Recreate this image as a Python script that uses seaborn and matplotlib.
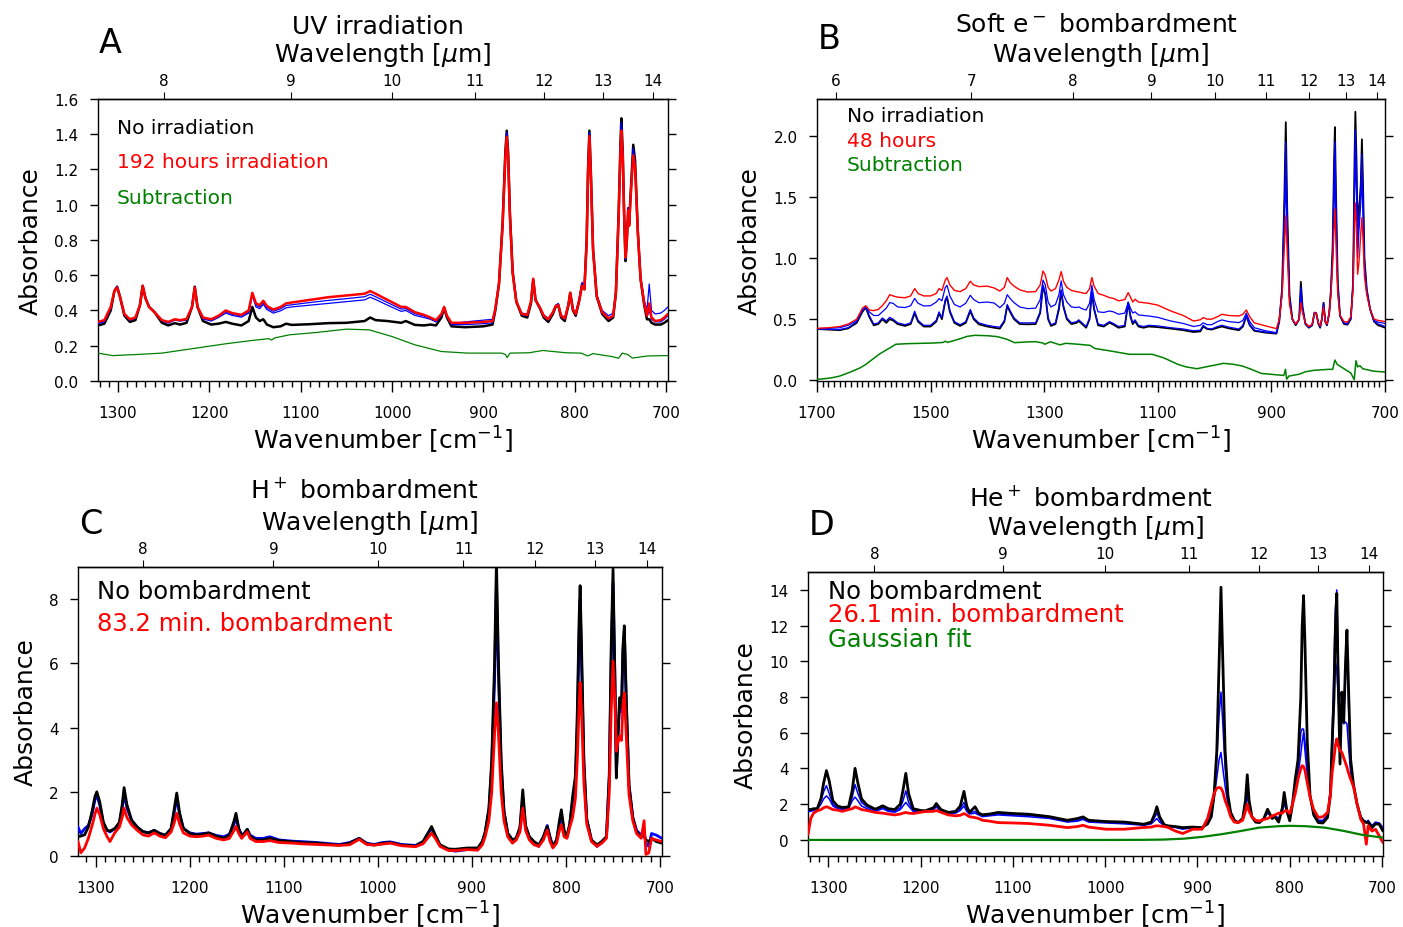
import numpy as np
import matplotlib
matplotlib.use("Agg")
import matplotlib.pyplot as plt
import seaborn as sns
from matplotlib.ticker import FixedLocator, MultipleLocator

# ---------------- Panel A: UV irradiation ----------------
wn_a = [1322, 1315, 1308, 1304, 1301, 1298, 1293, 1287, 1281, 1276, 1273, 1270, 1266, 1260,
        1252, 1245, 1238, 1232, 1225, 1219, 1216, 1213, 1207, 1198, 1190, 1182, 1175, 1165,
        1157, 1153, 1149, 1145, 1141, 1137, 1130, 1122, 1116, 1110, 1090, 1070, 1050, 1030,
        1024, 1018, 1005, 990, 985, 975, 965, 958, 952, 946, 943, 940, 935, 920, 900, 890,
        887, 883, 879, 876, 874.5, 873, 871, 868, 864, 858, 852, 848, 845.5, 843, 838, 834,
        829, 824, 821, 818, 815, 811, 807, 805, 802, 799, 795, 792, 789.5, 787, 785.5, 784,
        782.5, 780, 776, 770, 763, 758, 755, 752, 750, 749, 747.5, 746, 744.5, 743, 741.5,
        740.5, 739, 736, 734, 731, 728, 724, 721, 718.5, 716, 712, 706, 702, 698]
black_a = [0.315, 0.325, 0.40, 0.51, 0.535, 0.48, 0.37, 0.335, 0.345, 0.43, 0.54, 0.47, 0.42, 0.39,
           0.33, 0.315, 0.328, 0.32, 0.33, 0.42, 0.535, 0.42, 0.34, 0.32, 0.325, 0.335, 0.325, 0.315,
           0.34, 0.42, 0.36, 0.34, 0.35, 0.32, 0.305, 0.31, 0.325, 0.318, 0.322, 0.328, 0.33, 0.34,
           0.36, 0.345, 0.34, 0.33, 0.34, 0.318, 0.315, 0.32, 0.315, 0.36, 0.415, 0.36, 0.31, 0.305, 0.31, 0.32,
           0.40, 0.55, 0.90, 1.30, 1.42, 1.30, 0.95, 0.62, 0.45, 0.37, 0.36, 0.44, 0.575, 0.46, 0.41, 0.36,
           0.335, 0.38, 0.42, 0.43, 0.36, 0.34, 0.43, 0.50, 0.40, 0.37, 0.46, 0.55, 0.52, 0.80, 1.20, 1.42,
           1.20, 0.75, 0.48, 0.38, 0.34, 0.36, 0.50, 0.95, 1.35, 1.49, 1.30, 0.95, 0.68, 0.80, 0.98,
           0.89, 1.05, 1.34, 1.25, 0.85, 0.58, 0.43, 0.35, 0.35, 0.33, 0.32, 0.32, 0.33, 0.345]
red_a = [0.335, 0.345, 0.42, 0.51, 0.53, 0.48, 0.38, 0.35, 0.36, 0.43, 0.54, 0.47, 0.42, 0.39,
         0.345, 0.335, 0.35, 0.345, 0.352, 0.42, 0.53, 0.42, 0.36, 0.35, 0.37, 0.40, 0.385, 0.375,
         0.40, 0.50, 0.44, 0.43, 0.455, 0.425, 0.405, 0.42, 0.44, 0.445, 0.46, 0.475, 0.485, 0.495,
         0.51, 0.495, 0.46, 0.42, 0.42, 0.39, 0.375, 0.36, 0.345, 0.38, 0.42, 0.37, 0.33, 0.33, 0.335, 0.34,
         0.41, 0.55, 0.88, 1.27, 1.385, 1.27, 0.93, 0.61, 0.45, 0.38, 0.375, 0.45, 0.58, 0.46, 0.415, 0.37,
         0.35, 0.39, 0.425, 0.43, 0.37, 0.355, 0.43, 0.50, 0.405, 0.38, 0.46, 0.54, 0.52, 0.78, 1.18, 1.39,
         1.18, 0.74, 0.48, 0.39, 0.355, 0.37, 0.50, 0.93, 1.30, 1.42, 1.27, 0.95, 0.70, 0.80, 0.97,
         0.88, 1.03, 1.28, 1.21, 0.84, 0.58, 0.44, 0.37, 0.44, 0.36, 0.34, 0.345, 0.36, 0.38]
blue1_a = [0.325, 0.335, 0.41, 0.51, 0.535, 0.48, 0.375, 0.345, 0.355, 0.43, 0.54, 0.47, 0.42, 0.39,
           0.34, 0.328, 0.345, 0.34, 0.345, 0.42, 0.53, 0.42, 0.352, 0.34, 0.36, 0.385, 0.372, 0.362,
           0.385, 0.485, 0.42, 0.41, 0.435, 0.405, 0.385, 0.398, 0.415, 0.42, 0.43, 0.44, 0.45, 0.46,
           0.475, 0.462, 0.43, 0.395, 0.40, 0.372, 0.36, 0.35, 0.335, 0.37, 0.415, 0.365, 0.32, 0.32, 0.325, 0.33,
           0.40, 0.55, 0.89, 1.29, 1.41, 1.29, 0.94, 0.62, 0.45, 0.375, 0.37, 0.445, 0.575, 0.46, 0.41, 0.365,
           0.345, 0.385, 0.425, 0.435, 0.365, 0.35, 0.43, 0.50, 0.40, 0.375, 0.46, 0.545, 0.52, 0.79, 1.19, 1.41,
           1.19, 0.75, 0.48, 0.385, 0.35, 0.365, 0.50, 0.94, 1.33, 1.46, 1.29, 0.95, 0.69, 0.80, 0.98,
           0.89, 1.04, 1.31, 1.23, 0.85, 0.58, 0.44, 0.365, 0.40, 0.35, 0.335, 0.335, 0.35, 0.37]
blue2_a = [0.330, 0.340, 0.415, 0.51, 0.535, 0.48, 0.378, 0.345, 0.357, 0.43, 0.54, 0.47, 0.42, 0.39,
           0.342, 0.332, 0.347, 0.342, 0.348, 0.42, 0.53, 0.42, 0.356, 0.345, 0.365, 0.392, 0.378, 0.37,
           0.39, 0.49, 0.43, 0.42, 0.445, 0.415, 0.395, 0.41, 0.428, 0.432, 0.445, 0.457, 0.467, 0.478,
           0.492, 0.478, 0.445, 0.408, 0.41, 0.382, 0.368, 0.355, 0.34, 0.375, 0.418, 0.368, 0.325, 0.335, 0.345, 0.35,
           0.41, 0.55, 0.89, 1.29, 1.41, 1.29, 0.94, 0.62, 0.45, 0.385, 0.38, 0.45, 0.575, 0.46, 0.415, 0.375,
           0.355, 0.39, 0.43, 0.44, 0.375, 0.36, 0.43, 0.50, 0.41, 0.385, 0.47, 0.56, 0.52, 0.79, 1.19, 1.41,
           1.19, 0.75, 0.49, 0.40, 0.37, 0.385, 0.51, 0.94, 1.33, 1.47, 1.29, 0.95, 0.69, 0.80, 0.98,
           0.88, 1.04, 1.32, 1.23, 0.85, 0.59, 0.46, 0.40, 0.55, 0.40, 0.38, 0.385, 0.40, 0.42]
sub_wn_a = [1322, 1306, 1280, 1252, 1215, 1182, 1153, 1135, 1132, 1128, 1112, 1083, 1050, 1025,
            1000, 975, 946, 917, 880, 876, 874, 871, 850, 835, 810, 793, 786, 780, 760, 752,
            748, 742, 737, 720, 698]
sub_a = [0.158, 0.144, 0.150, 0.158, 0.186, 0.211, 0.230, 0.240, 0.232, 0.245, 0.262, 0.275, 0.294, 0.290,
         0.252, 0.205, 0.167, 0.158, 0.158, 0.150, 0.133, 0.158, 0.160, 0.173, 0.160, 0.158, 0.142, 0.155, 0.139, 0.129,
         0.158, 0.150, 0.130, 0.142, 0.144]

# ---------------- Panel B: soft electron bombardment ----------------
wn_b = [1700, 1680, 1660, 1645, 1630, 1620, 1614, 1608, 1600, 1592, 1585, 1578, 1572, 1566, 1558,
        1545, 1535, 1528, 1522, 1512, 1500, 1490, 1485, 1480, 1474, 1471, 1466, 1458, 1448, 1438,
        1430, 1424, 1415, 1400, 1388, 1378, 1370, 1365, 1360, 1353, 1343, 1329, 1315, 1307, 1302,
        1298, 1293, 1288, 1280, 1274, 1270, 1266, 1260, 1252, 1243, 1239, 1233, 1226, 1220, 1216,
        1212, 1205, 1195, 1185, 1178, 1169, 1158, 1152, 1148, 1144, 1140, 1134, 1125, 1116, 1100,
        1077, 1055, 1037, 1025, 1020, 1013, 1005, 995, 987, 975, 957, 950, 944, 938, 930, 910, 891,
        886, 881, 877, 874.5, 872, 868, 863, 857, 851, 848, 845, 840, 834, 828, 824, 821, 817, 814,
        811, 808, 805, 802, 798, 795, 792, 789.5, 788, 786, 783, 779, 772, 766, 760, 756, 753.5,
        752, 750, 748, 746, 744.5, 742.5, 740.5, 738.5, 736, 732, 726, 719, 712, 705, 700]
black_b = [0.42, 0.415, 0.41, 0.425, 0.47, 0.56, 0.595, 0.52, 0.45, 0.46, 0.50, 0.47, 0.50, 0.49, 0.46,
           0.445, 0.46, 0.55, 0.48, 0.44, 0.44, 0.48, 0.548, 0.50, 0.65, 0.676, 0.56, 0.47, 0.445, 0.47,
           0.567, 0.50, 0.458, 0.44, 0.43, 0.423, 0.48, 0.608, 0.56, 0.50, 0.46, 0.458, 0.46, 0.55, 0.77,
           0.70, 0.50, 0.445, 0.46, 0.58, 0.73, 0.60, 0.50, 0.46, 0.47, 0.485, 0.46, 0.43, 0.50, 0.717,
           0.58, 0.45, 0.44, 0.472, 0.455, 0.43, 0.44, 0.635, 0.52, 0.46, 0.485, 0.44, 0.43, 0.44, 0.435,
           0.423, 0.41, 0.395, 0.40, 0.44, 0.42, 0.415, 0.43, 0.44, 0.425, 0.41, 0.44, 0.526, 0.45, 0.405, 0.39, 0.382,
           0.48, 0.75, 1.50, 2.11, 1.40, 0.70, 0.50, 0.45, 0.50, 0.805, 0.60, 0.46, 0.43, 0.45, 0.554, 0.55, 0.46, 0.43,
           0.50, 0.635, 0.48, 0.45, 0.55, 0.745, 1.10, 1.80, 2.07, 1.50, 0.80, 0.526, 0.46, 0.455, 0.50, 0.80, 1.80,
           2.195, 1.80, 1.20, 1.40, 1.467, 1.60, 1.97, 1.60, 1.00, 0.745, 0.58, 0.48, 0.45, 0.44, 0.43]
red_b = [0.425, 0.43, 0.44, 0.46, 0.50, 0.59, 0.61, 0.575, 0.57, 0.58, 0.61, 0.65, 0.70, 0.69, 0.68,
         0.675, 0.69, 0.75, 0.71, 0.69, 0.69, 0.71, 0.75, 0.735, 0.82, 0.84, 0.78, 0.735, 0.725, 0.75,
         0.81, 0.78, 0.766, 0.77, 0.755, 0.73, 0.76, 0.84, 0.80, 0.77, 0.74, 0.722, 0.725, 0.78, 0.894,
         0.86, 0.76, 0.73, 0.75, 0.82, 0.889, 0.81, 0.76, 0.735, 0.725, 0.722, 0.715, 0.71, 0.75, 0.84,
         0.77, 0.71, 0.695, 0.676, 0.67, 0.65, 0.66, 0.717, 0.68, 0.64, 0.663, 0.64, 0.635, 0.63, 0.615,
         0.567, 0.53, 0.485, 0.495, 0.513, 0.50, 0.50, 0.52, 0.54, 0.53, 0.526, 0.54, 0.575, 0.52, 0.47, 0.445, 0.423,
         0.50, 0.70, 1.10, 1.345, 1.05, 0.62, 0.50, 0.46, 0.50, 0.635, 0.55, 0.47, 0.44, 0.46, 0.55, 0.55, 0.47, 0.445,
         0.50, 0.60, 0.48, 0.46, 0.55, 0.70, 0.95, 1.25, 1.40, 1.10, 0.70, 0.53, 0.48, 0.475, 0.52, 0.75, 1.30,
         1.45, 1.20, 0.867, 0.95, 1.045, 1.20, 1.33, 1.15, 0.85, 0.70, 0.58, 0.50, 0.49, 0.485, 0.48]
blue_hi_b = [0.423, 0.425, 0.43, 0.45, 0.49, 0.58, 0.60, 0.56, 0.53, 0.53, 0.56, 0.59, 0.635, 0.63, 0.60,
             0.595, 0.61, 0.67, 0.63, 0.608, 0.61, 0.64, 0.668, 0.65, 0.76, 0.777, 0.69, 0.62, 0.60, 0.63,
             0.695, 0.66, 0.635, 0.64, 0.632, 0.594, 0.63, 0.70, 0.67, 0.635, 0.60, 0.586, 0.59, 0.66, 0.82,
             0.78, 0.64, 0.60, 0.62, 0.70, 0.813, 0.70, 0.64, 0.60, 0.595, 0.60, 0.585, 0.575, 0.63, 0.777,
             0.66, 0.56, 0.555, 0.567, 0.56, 0.54, 0.55, 0.635, 0.59, 0.55, 0.56, 0.535, 0.53, 0.526, 0.515,
             0.485, 0.465, 0.44, 0.45, 0.47, 0.455, 0.455, 0.48, 0.494, 0.48, 0.472, 0.49, 0.55, 0.48, 0.43, 0.405, 0.39,
             0.49, 0.72, 1.25, 1.65, 1.20, 0.65, 0.50, 0.455, 0.50, 0.70, 0.57, 0.465, 0.435, 0.455, 0.55, 0.55, 0.465, 0.44,
             0.50, 0.62, 0.48, 0.455, 0.55, 0.72, 1.00, 1.45, 1.70, 1.25, 0.75, 0.53, 0.47, 0.465, 0.51, 0.78, 1.55,
             1.80, 1.50, 1.00, 1.20, 1.30, 1.45, 1.65, 1.35, 0.92, 0.72, 0.58, 0.49, 0.475, 0.47, 0.465]
blue_lo_b = [0.42, 0.418, 0.415, 0.43, 0.48, 0.57, 0.60, 0.53, 0.46, 0.47, 0.51, 0.485, 0.515, 0.50, 0.47,
             0.455, 0.47, 0.565, 0.49, 0.45, 0.45, 0.49, 0.56, 0.51, 0.66, 0.69, 0.57, 0.48, 0.455, 0.48,
             0.58, 0.51, 0.47, 0.45, 0.44, 0.435, 0.49, 0.62, 0.57, 0.51, 0.47, 0.47, 0.47, 0.56, 0.78,
             0.71, 0.51, 0.455, 0.47, 0.60, 0.74, 0.61, 0.51, 0.47, 0.48, 0.495, 0.47, 0.44, 0.51, 0.73,
             0.59, 0.46, 0.45, 0.48, 0.465, 0.44, 0.45, 0.64, 0.53, 0.47, 0.495, 0.45, 0.44, 0.45, 0.445,
             0.43, 0.42, 0.405, 0.41, 0.45, 0.425, 0.42, 0.44, 0.45, 0.435, 0.42, 0.45, 0.53, 0.455, 0.41, 0.395, 0.386,
             0.49, 0.74, 1.40, 1.95, 1.30, 0.68, 0.50, 0.455, 0.50, 0.76, 0.59, 0.465, 0.435, 0.455, 0.554, 0.55, 0.465, 0.435,
             0.50, 0.63, 0.48, 0.455, 0.55, 0.74, 1.05, 1.70, 1.95, 1.40, 0.78, 0.53, 0.465, 0.46, 0.51, 0.79, 1.70,
             2.05, 1.70, 1.10, 1.30, 1.40, 1.55, 1.85, 1.50, 0.97, 0.74, 0.58, 0.485, 0.46, 0.45, 0.44]
sub_wn_b = [1700, 1690, 1675, 1660, 1640, 1625, 1614, 1600, 1590, 1581, 1570, 1561, 1540, 1514, 1495,
            1478, 1474, 1470, 1448, 1435, 1422, 1400, 1382, 1365, 1352, 1330, 1315, 1302, 1299, 1289,
            1272, 1262, 1240, 1219, 1214, 1210, 1183, 1150, 1110, 1090, 1064, 1050, 1031, 1010, 984,
            965, 951, 935, 918, 890, 878, 875, 873, 869, 851, 840, 825, 800, 792, 788, 784, 772, 760,
            754, 751, 748, 744, 739, 720, 700]
sub_b = [0.008, 0.012, 0.020, 0.035, 0.070, 0.100, 0.130, 0.180, 0.215, 0.240, 0.270, 0.295, 0.300, 0.303, 0.305,
         0.310, 0.320, 0.310, 0.340, 0.360, 0.368, 0.365, 0.357, 0.335, 0.308, 0.314, 0.316, 0.305, 0.295, 0.315,
         0.290, 0.303, 0.295, 0.286, 0.270, 0.260, 0.240, 0.213, 0.213, 0.185, 0.130, 0.110, 0.095, 0.115, 0.139,
         0.130, 0.117, 0.090, 0.057, 0.045, 0.040, 0.090, 0.010, 0.035, 0.050, 0.070, 0.082, 0.090, 0.090, 0.166, 0.130, 0.095, 0.060,
         0.005, 0.160, 0.110, 0.120, 0.095, 0.075, 0.068]

# ---------------- Panel C: H+ bombardment ----------------
wn_c = [1319, 1316, 1312, 1308, 1304, 1301, 1299, 1296, 1292, 1288, 1285, 1280, 1275, 1272, 1270,
        1267, 1262, 1256, 1250, 1244, 1238, 1232, 1226, 1220, 1217, 1214, 1211, 1207, 1200, 1193,
        1186, 1180, 1172, 1164, 1158, 1153, 1151, 1148, 1145, 1142, 1139, 1136, 1130, 1122, 1115,
        1105, 1090, 1082, 1065, 1050, 1041, 1030, 1020, 1012, 1004, 995, 987, 975, 960, 952, 946,
        943, 939, 934, 925, 918, 905, 894, 889, 886, 882, 879, 876, 874, 872, 869, 866, 862, 857,
        853, 849, 846, 843, 839, 834, 829, 824, 820, 817, 814, 810, 807, 805, 802, 799, 796, 793,
        790, 788, 786, 785, 783.5, 781, 778, 773, 767, 762, 757, 754, 752, 750, 748, 746.5, 745,
        743, 741, 739.5, 738, 736, 733, 729, 725, 720, 717, 715, 712, 709, 704, 698]
black_c = [0.60, 0.62, 0.66, 0.90, 1.40, 1.85, 2.00, 1.70, 1.05, 0.80, 0.78, 0.85, 1.05, 1.60, 2.13,
           1.60, 1.12, 0.90, 0.76, 0.72, 0.80, 0.70, 0.65, 0.85, 1.40, 1.96, 1.35, 0.86, 0.70, 0.66,
           0.68, 0.72, 0.62, 0.55, 0.65, 1.10, 1.33, 0.85, 0.62, 0.70, 0.83, 0.62, 0.50, 0.50, 0.55,
           0.48, 0.44, 0.42, 0.40, 0.36, 0.34, 0.40, 0.55, 0.38, 0.34, 0.40, 0.42, 0.34, 0.31, 0.45, 0.75,
           0.92, 0.65, 0.35, 0.22, 0.21, 0.25, 0.25, 0.45, 0.76, 1.50, 3.00, 6.00, 9.20, 6.20, 3.00, 1.40, 0.71, 0.50,
           0.55, 0.90, 2.06, 0.95, 0.60, 0.45, 0.35, 0.60, 0.92, 0.55, 0.30, 0.50, 1.10, 1.44, 0.80, 0.60, 1.00, 1.85,
           2.50, 4.50, 7.50, 8.42, 6.50, 3.00, 1.15, 0.50, 0.35, 0.45, 0.60, 2.50, 6.50, 8.94, 5.50, 2.43, 3.60,
           4.93, 4.60, 6.50, 7.17, 5.00, 2.20, 1.20, 0.75, 0.60, 0.65, 0.50, 0.45, 0.55, 0.45, 0.40]
red_c = [0.45, 0.10, 0.25, 0.55, 0.95, 1.30, 1.49, 1.30, 0.85, 0.60, 0.45, 0.72, 0.90, 1.20, 1.49,
         1.20, 0.97, 0.80, 0.66, 0.62, 0.72, 0.62, 0.57, 0.75, 1.00, 1.33, 1.00, 0.72, 0.62, 0.60,
         0.62, 0.65, 0.55, 0.50, 0.55, 0.80, 0.92, 0.70, 0.55, 0.65, 0.75, 0.55, 0.45, 0.45, 0.48,
         0.42, 0.40, 0.38, 0.36, 0.34, 0.33, 0.35, 0.52, 0.36, 0.34, 0.37, 0.40, 0.32, 0.29, 0.38, 0.60,
         0.71, 0.55, 0.30, 0.17, 0.17, 0.20, 0.18, 0.35, 0.60, 1.10, 2.00, 3.80, 4.77, 3.90, 2.00, 1.10, 0.60, 0.40,
         0.50, 0.75, 1.49, 0.80, 0.50, 0.35, 0.30, 0.50, 0.81, 0.45, 0.25, 0.40, 0.80, 0.97, 0.60, 0.55, 0.90, 1.20,
         1.80, 3.00, 4.80, 5.40, 4.50, 2.30, 1.00, 0.45, 0.30, 0.40, 0.55, 2.00, 4.50, 6.07, 4.80, 3.26, 3.50,
         3.73, 3.60, 4.70, 5.08, 3.80, 1.90, 1.10, 0.70, 0.55, 1.10, 0.05, 0.10, 0.55, 0.50, 0.45]
blue_c = [0.90, 0.70, 0.85, 0.95, 1.30, 1.75, 1.90, 1.60, 1.00, 0.80, 0.75, 0.85, 1.00, 1.50, 1.95,
          1.50, 1.10, 0.90, 0.76, 0.72, 0.80, 0.70, 0.65, 0.85, 1.30, 1.80, 1.30, 0.86, 0.72, 0.68,
          0.70, 0.72, 0.64, 0.60, 0.68, 1.00, 1.20, 0.85, 0.65, 0.72, 0.83, 0.65, 0.55, 0.55, 0.60,
          0.50, 0.46, 0.45, 0.42, 0.38, 0.36, 0.42, 0.55, 0.40, 0.36, 0.42, 0.44, 0.36, 0.33, 0.45, 0.75,
          0.85, 0.62, 0.32, 0.20, 0.15, 0.20, 0.20, 0.45, 0.70, 1.40, 2.80, 5.50, 8.50, 5.80, 2.80, 1.40, 0.70, 0.50,
          0.55, 0.85, 1.80, 0.90, 0.60, 0.40, 0.30, 0.60, 0.95, 0.60, 0.30, 0.50, 1.00, 1.30, 0.75, 0.60, 1.00, 1.70,
          2.30, 4.00, 7.00, 8.00, 6.00, 2.80, 1.15, 0.50, 0.30, 0.45, 0.60, 2.50, 6.00, 8.50, 5.50, 2.60, 3.60,
          4.70, 4.50, 6.30, 7.00, 4.80, 2.20, 1.20, 0.80, 0.65, 0.70, 0.40, 0.30, 0.70, 0.65, 0.55]

# ---------------- Panel D: He+ bombardment ----------------
wn_d = [1322, 1319, 1316, 1312, 1308, 1305, 1302, 1299, 1295, 1290, 1285, 1278, 1274, 1271, 1268,
        1264, 1258, 1249, 1241, 1235, 1228, 1222, 1219, 1216, 1213, 1208, 1200, 1195, 1186, 1183,
        1178, 1170, 1162, 1157, 1153, 1150, 1147, 1141, 1137, 1133, 1125, 1116, 1100, 1083, 1060,
        1041, 1030, 1024, 1018, 999, 979, 958, 950, 946, 944, 941, 936, 932, 924, 916, 905, 895,
        889, 885, 882, 879, 876.5, 874.5, 872.5, 870, 867, 864, 860, 856, 851, 848, 846, 844, 841,
        837, 833, 828, 824, 822, 819, 816, 812, 808, 806, 803, 800, 797, 794, 791, 788, 786.5, 785,
        783.5, 781, 778, 774, 769, 764, 759, 756, 754, 752, 750.5, 749, 747.5, 745.5, 743.5, 741.5,
        739.5, 738, 736, 734, 731, 727, 723, 720, 717, 715, 711, 707, 703, 699]
black_d = [1.72, 1.70, 1.75, 1.75, 2.30, 3.20, 3.88, 3.30, 2.19, 1.90, 1.82, 1.85, 2.80, 4.01, 3.20,
           2.30, 1.95, 1.72, 1.91, 1.75, 1.70, 2.00, 2.80, 3.73, 2.60, 1.75, 1.65, 1.63, 1.80, 2.04,
           1.70, 1.54, 1.60, 1.90, 2.72, 1.90, 1.54, 1.86, 1.50, 1.41, 1.45, 1.54, 1.48, 1.44, 1.30,
           1.10, 1.20, 1.29, 1.10, 1.03, 1.00, 0.88, 1.00, 1.50, 1.86, 1.30, 0.85, 0.79, 0.75, 0.69, 0.72, 0.69,
           0.90, 1.30, 2.50, 5.00, 10.0, 14.15, 10.0, 5.00, 2.50, 1.54, 1.10, 0.97, 1.20, 2.20, 3.65, 2.20, 1.30,
           1.00, 0.97, 1.20, 1.72, 1.50, 1.20, 1.30, 1.00, 1.80, 2.66, 1.60, 1.07, 2.00, 3.41, 4.50, 8.00, 12.0, 13.68,
           11.0, 5.50, 2.50, 1.40, 0.97, 0.95, 1.26, 2.50, 5.50, 8.00, 12.0, 13.8, 9.00, 4.25, 8.28, 6.60,
           10.0, 11.75, 8.00, 4.50, 3.13, 2.00, 1.26, 1.05, 0.97, 1.00, 0.69, 0.90, 0.88, 0.50]
red_d = [0.30, 1.20, 1.50, 1.63, 1.70, 1.80, 1.86, 1.80, 1.70, 1.67, 1.60, 1.70, 1.75, 1.85, 1.80,
         1.70, 1.65, 1.54, 1.50, 1.45, 1.40, 1.45, 1.50, 1.54, 1.50, 1.48, 1.55, 1.59, 1.60, 1.65,
         1.55, 1.40, 1.35, 1.38, 1.48, 1.40, 1.30, 1.25, 1.20, 1.10, 1.05, 0.97, 0.95, 0.92, 0.82,
         0.69, 0.75, 0.82, 0.72, 0.60, 0.60, 0.70, 0.72, 0.78, 0.79, 0.78, 0.75, 0.70, 0.50, 0.36, 0.60, 0.60,
         1.20, 2.00, 2.60, 2.90, 2.94, 2.90, 2.70, 2.20, 1.80, 1.30, 1.00, 0.97, 1.10, 1.60, 2.00, 1.60, 1.30,
         1.10, 1.06, 1.15, 1.20, 1.25, 1.35, 1.40, 1.50, 1.50, 1.60, 1.65, 1.48, 2.00, 2.60, 3.40, 4.00, 4.16, 4.10,
         3.90, 3.20, 2.40, 1.70, 1.26, 1.30, 1.54, 2.50, 3.80, 4.60, 5.30, 5.66, 5.30, 5.00, 4.90, 4.60,
         4.30, 4.07, 3.70, 3.40, 3.00, 2.00, 1.15, 0.90, -0.24, 0.80, 0.50, 0.60, 0.22, -0.15]
blue1_d = [1.60, 1.60, 1.65, 1.70, 2.00, 2.30, 2.47, 2.30, 1.90, 1.75, 1.70, 1.75, 2.20, 2.40, 2.20,
           1.90, 1.75, 1.60, 1.75, 1.60, 1.55, 1.70, 1.90, 2.10, 1.90, 1.60, 1.60, 1.60, 1.70, 1.85,
           1.60, 1.50, 1.50, 1.65, 1.90, 1.60, 1.45, 1.50, 1.40, 1.30, 1.35, 1.40, 1.35, 1.30, 1.20,
           1.00, 1.05, 1.15, 1.00, 0.95, 0.90, 0.82, 0.90, 1.10, 1.20, 1.00, 0.80, 0.75, 0.70, 0.60, 0.68, 0.68,
           0.90, 1.50, 2.30, 3.50, 4.50, 4.90, 4.00, 3.00, 2.00, 1.40, 1.05, 0.97, 1.15, 1.80, 2.50, 1.80, 1.30,
           1.05, 1.00, 1.20, 1.50, 1.40, 1.30, 1.35, 1.20, 1.60, 2.00, 1.60, 1.30, 2.10, 2.80, 3.60, 4.80, 5.50, 6.00,
           5.00, 3.60, 2.40, 1.60, 1.10, 1.10, 1.40, 2.70, 4.50, 8.00, 10.0, 9.50, 8.00, 6.50, 6.80, 6.50,
           6.60, 6.50, 5.00, 3.80, 3.00, 2.00, 1.30, 1.10, 1.00, 1.10, 0.80, 1.00, 0.95, 0.70]
blue2_d = [1.65, 1.65, 1.70, 1.72, 2.20, 2.70, 3.04, 2.60, 2.00, 1.80, 1.75, 1.80, 2.40, 3.10, 2.60,
           2.10, 1.85, 1.65, 1.80, 1.65, 1.60, 1.80, 2.20, 2.75, 2.10, 1.65, 1.62, 1.62, 1.75, 1.95,
           1.65, 1.52, 1.55, 1.75, 2.10, 1.70, 1.50, 1.60, 1.45, 1.35, 1.40, 1.45, 1.40, 1.38, 1.25,
           1.05, 1.10, 1.20, 1.05, 1.00, 0.95, 0.85, 0.95, 1.30, 1.50, 1.15, 0.82, 0.77, 0.72, 0.65, 0.70, 0.69,
           0.95, 1.80, 2.60, 4.50, 7.00, 8.28, 6.50, 4.00, 2.30, 1.45, 1.10, 0.97, 1.20, 2.00, 3.10, 2.00, 1.30,
           1.05, 1.00, 1.20, 1.60, 1.45, 1.30, 1.35, 1.20, 1.70, 2.40, 1.60, 1.20, 2.10, 3.00, 4.00, 6.00, 6.22, 6.20,
           5.50, 4.20, 2.40, 1.50, 1.00, 1.05, 1.35, 2.90, 6.00, 10.0, 13.0, 14.0, 10.0, 6.50, 7.40, 7.00,
           9.00, 11.2, 7.00, 4.00, 3.00, 2.00, 1.30, 1.10, 1.00, 1.05, 0.75, 0.95, 0.90, 0.60]
fit_wn_d = [1322, 1100, 1000, 960, 937, 915, 895, 874, 853, 833, 812, 800, 783, 762, 741, 721, 699]
fit_d = [0.0, 0.0, 0.0, 0.005, 0.02, 0.07, 0.17, 0.32, 0.50, 0.69, 0.77, 0.79, 0.77, 0.69, 0.50, 0.28, 0.13]

# ---------------- styling ----------------
sns.set_style("ticks")
plt.rcParams["font.family"] = ["DejaVu Sans"]
plt.rcParams["mathtext.fontset"] = "dejavusans"
plt.rcParams["axes.linewidth"] = 1.0
for key in ("text.color", "axes.labelcolor", "xtick.color", "ytick.color", "axes.edgecolor"):
    plt.rcParams[key] = "black"

fig = plt.figure(figsize=(14.03, 9.28), dpi=100)


def to_wavelength(x):
    x = np.asarray(x, dtype=float)
    with np.errstate(divide="ignore", invalid="ignore"):
        return 1e4 / x


def trace(ax, x, y, color, lw, z):
    sns.lineplot(x=x, y=y, ax=ax, color=color, linewidth=lw, sort=False,
                 estimator=None, zorder=z, legend=False)


def frame(ax, xlim, ylim, xticks, yticks, wl_ticks):
    ax.set_xlim(*xlim)
    ax.set_ylim(*ylim)
    ax.xaxis.set_major_locator(FixedLocator(xticks))
    ax.xaxis.set_minor_locator(MultipleLocator(10))
    ax.set_yticks(yticks)
    for s in ax.spines.values():
        s.set_visible(True)
        s.set_color("black")
        s.set_linewidth(1.0)
    ax.tick_params(axis="both", which="both", direction="out", top=False, right=True,
                   labelsize=11, width=1, color="black", labelcolor="black")
    ax.tick_params(axis="x", which="major", length=8, pad=9)
    ax.tick_params(axis="x", which="minor", length=4)
    ax.tick_params(axis="y", which="major", length=6, pad=8)
    ax.set_xlabel("Wavenumber [cm$^{-1}$]", fontsize=18, labelpad=3)
    ax.set_ylabel("Absorbance", fontsize=18, labelpad=8)
    sec = ax.secondary_xaxis("top", functions=(to_wavelength, to_wavelength))
    sec.set_xticks(wl_ticks)
    sec.tick_params(direction="out", length=5, labelsize=11, pad=3,
                    color="black", labelcolor="black")
    sec.spines["top"].set_linewidth(1.0)
    sec.spines["top"].set_color("black")
    sec.set_xlabel("Wavelength [$\\mu$m]", fontsize=18, labelpad=8.5)
    return sec


def notes(ax, lines, x, ys, size):
    for (txt, col), y in zip(lines, ys):
        ax.text(x, y, txt, color=col, fontsize=size, ha="left", va="center",
                transform=ax.transAxes)


# Panel A
ax_a = fig.add_axes([0.0698, 0.5884, 0.4063, 0.3039])
trace(ax_a, wn_a, black_a, "black", 1.8, 3)
trace(ax_a, wn_a, blue1_a, "blue", 0.9, 4)
trace(ax_a, wn_a, blue2_a, "blue", 0.9, 4)
trace(ax_a, wn_a, red_a, "red", 1.8, 5)
trace(ax_a, sub_wn_a, sub_a, "green", 0.9, 6)
frame(ax_a, (1322, 698), (0, 1.6), [1300, 1200, 1100, 1000, 900, 800, 700],
      [0.0, 0.2, 0.4, 0.6, 0.8, 1.0, 1.2, 1.4, 1.6], [8, 9, 10, 11, 12, 13, 14])
notes(ax_a, [("No irradiation", "black"), ("192 hours irradiation", "red"),
             ("Subtraction", "green")], 0.033, [0.90, 0.777, 0.652], 14.5)
ax_a.text(0.491, 1.259, "UV irradiation", fontsize=18, ha="center", va="center",
          transform=ax_a.transAxes)

# Panel B
ax_b = fig.add_axes([0.5823, 0.5884, 0.4048, 0.3039])
trace(ax_b, wn_b, black_b, "black", 1.3, 3)
trace(ax_b, wn_b, blue_lo_b, "blue", 0.9, 4)
trace(ax_b, wn_b, blue_hi_b, "blue", 0.9, 4)
trace(ax_b, wn_b, red_b, "red", 1.0, 5)
trace(ax_b, sub_wn_b, sub_b, "green", 1.1, 6)
frame(ax_b, (1700, 700), (-0.005, 2.3), [1700, 1500, 1300, 1100, 900, 700],
      [0.0, 0.5, 1.0, 1.5, 2.0], [6, 7, 8, 9, 10, 11, 12, 13, 14])
notes(ax_b, [("No irradiation", "black"), ("48 hours", "red"),
             ("Subtraction", "green")], 0.053, [0.94, 0.851, 0.766], 14.5)
ax_b.text(0.493, 1.264, "Soft e$^-$ bombardment", fontsize=18, ha="center", va="center",
          transform=ax_b.transAxes)

# Panel C
ax_c = fig.add_axes([0.0556, 0.0765, 0.4162, 0.3114])
trace(ax_c, wn_c, blue_c, "blue", 2.0, 3)
trace(ax_c, wn_c, black_c, "black", 2.0, 4)
trace(ax_c, wn_c, red_c, "red", 2.0, 5)
frame(ax_c, (1319, 698), (0, 9), [1300, 1200, 1100, 1000, 900, 800, 700],
      [0, 2, 4, 6, 8], [8, 9, 10, 11, 12, 13, 14])
notes(ax_c, [("No bombardment", "black"), ("83.2 min. bombardment", "red")],
      0.0325, [0.917, 0.806], 17.5)
ax_c.text(0.490, 1.268, "H$^+$ bombardment", fontsize=18, ha="center", va="center",
          transform=ax_c.transAxes)

# Panel D
ax_d = fig.add_axes([0.5759, 0.0765, 0.4098, 0.3060])
trace(ax_d, wn_d, blue1_d, "blue", 1.1, 3)
trace(ax_d, wn_d, blue2_d, "blue", 1.1, 3)
trace(ax_d, wn_d, black_d, "black", 2.0, 4)
trace(ax_d, wn_d, red_d, "red", 2.0, 5)
trace(ax_d, fit_wn_d, fit_d, "green", 1.6, 6)
frame(ax_d, (1322, 699), (-0.9, 15), [1300, 1200, 1100, 1000, 900, 800, 700],
      [0, 2, 4, 6, 8, 10, 12, 14], [8, 9, 10, 11, 12, 13, 14])
notes(ax_d, [("No bombardment", "black"), ("26.1 min. bombardment", "red"),
             ("Gaussian fit", "green")], 0.035, [0.933, 0.852, 0.764], 17.5)
ax_d.text(0.492, 1.264, "He$^+$ bombardment", fontsize=18, ha="center", va="center",
          transform=ax_d.transAxes)

# Panel letters
for letter, (fx, fy) in zip("ABCD", [(0.0784, 0.9526), (0.5909, 0.9569),
                                     (0.0649, 0.4353), (0.5859, 0.4332)]):
    fig.text(fx, fy, letter, fontsize=24, ha="center", va="center")

fig.savefig("out.png", dpi=100)
